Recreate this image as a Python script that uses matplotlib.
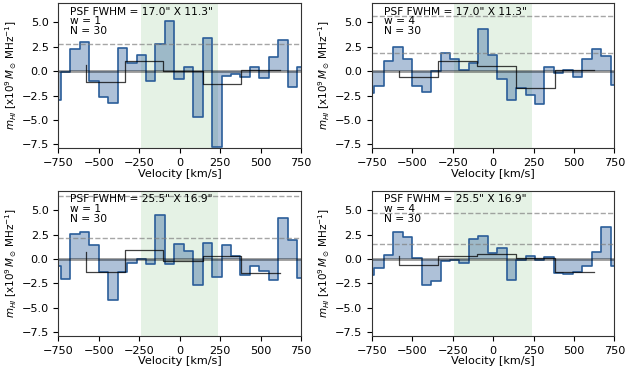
import numpy as np
import matplotlib
matplotlib.use('Agg')
import matplotlib.pyplot as plt

# fine channel centres (km/s), ~58.4 km/s wide
v_fine = -763 + 58.4 * np.arange(27)
# coarse (4-channel) binned spectrum, drawn with where='pre'
v_coarse = [-580, -340, -100, 143, 381, 623]

psf = ['17.0" X 11.3"', '17.0" X 11.3"', '25.5" X 16.9"', '25.5" X 16.9"']
w = [1, 4, 1, 4]
n = 30

m_fine = [
    [-3.0, -0.05, 2.3, 3.0, -1.0, -2.7, -3.25, 2.35, 0.8, 1.7, -1.0, 2.75, 5.15, -0.8,
     0.4, -4.7, 3.4, -7.8, -0.45, -0.25, -0.55, 0.4, -0.75, 1.5, 3.15, -1.6, 0.4],
    [-2.2, -1.5, 1.05, 2.45, 1.3, -1.5, -2.15, 0.0, 1.9, 1.2, 0.15, 0.85, 4.3, 1.7,
     -0.85, -3.0, -1.75, -2.4, -3.4, 0.45, -0.15, 0.1, -0.6, 1.3, 2.25, 1.55, -1.4],
    [-0.7, -2.05, 2.6, 2.75, 1.4, -1.3, -4.2, -1.3, -0.4, -0.05, -0.5, 4.5, -0.5, 1.55,
     0.8, -2.7, 1.6, -1.9, 1.4, 0.25, -1.65, -0.7, -1.2, -2.2, 4.25, 1.9, -1.95],
    [-1.65, -0.95, 0.45, 2.75, 2.3, 0.05, -2.7, -2.3, -0.25, -0.15, -0.4, 2.0, 2.35, 0.6,
     1.15, -2.15, -0.15, 0.35, -0.15, 0.15, -1.4, -1.6, -1.35, -0.7, 0.7, 3.25, -0.7],
]
m_coarse = [
    [0.6, -1.1, 1.05, 0.0, -1.3, 0.15],
    [0.0, -0.6, 1.0, 0.5, -1.75, 0.15],
    [0.7, -1.3, 0.9, -0.2, 0.25, -1.45],
    [0.3, -0.6, 0.3, 0.5, 0.1, -1.35],
]
# 1 sigma and 3 sigma noise levels
sigma = [2.75, 1.9, 2.15, 1.57]

plt.rcParams['font.size'] = 8.1
fig = plt.figure(figsize=(6.27, 3.74), dpi=100)
lefts = [0.093, 0.593, 0.093, 0.593]
bottoms = [0.604, 0.604, 0.102, 0.102]
col = '#2a5d99'

for i in range(4):
    ax = fig.add_axes([lefts[i], bottoms[i], 0.387, 0.388])
    ax.axvspan(-240, 240, color='g', alpha=0.1, lw=0)
    ax.fill_between(v_fine, m_fine[i], step='mid', color=col, alpha=0.38, lw=0)
    ax.step(v_fine, m_fine[i], where='mid', color=col, lw=1.2)
    ax.axhline(0, color='k', alpha=0.4, lw=2)
    ax.axhline(sigma[i], color='grey', ls='--', lw=1, alpha=0.7)
    ax.axhline(3 * sigma[i], color='grey', ls='--', lw=1, alpha=0.7)
    ax.step(v_coarse, m_coarse[i], where='pre', color='k', lw=0.9, alpha=0.75)
    ax.text(0.05, 0.975, 'PSF FWHM = ' + psf[i] + '\nw = ' + str(w[i]) + '\nN = ' + str(n),
            transform=ax.transAxes, va='top', ha='left', linespacing=0.95, fontsize=7.7)
    ax.set_xlim(-750, 750)
    ax.set_ylim(-7.9, 7.0)
    ax.set_xticks([-750, -500, -250, 0, 250, 500, 750])
    ax.set_yticks([-7.5, -5.0, -2.5, 0.0, 2.5, 5.0])
    ax.set_xlabel('Velocity [km/s]', labelpad=0.5)
    ax.set_ylabel(r'$m_{HI}$ [x10$^9\,M_\odot\,$MHz$^{-1}$]', labelpad=2, fontsize=7.5)
    for s in ax.spines.values():
        s.set_color('#333333')

fig.savefig('out.png', dpi=100)
